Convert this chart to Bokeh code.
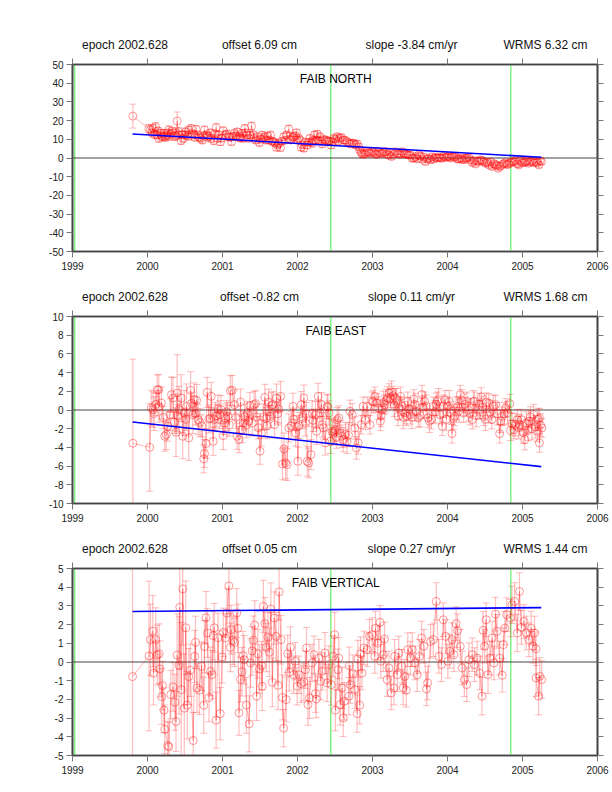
from bokeh.plotting import figure
from bokeh.layouts import column
from bokeh.models import ColumnDataSource, Label, LinearAxis, FixedTicker, Span
from bokeh.embed import file_html
from bokeh.resources import INLINE

year_ticks = [1999, 2000, 2001, 2002, 2003, 2004, 2005, 2006]
eq_epochs = [1999.03, 2002.444, 2004.844]

north_t = [1999.805,2000.018,2000.04,2000.076,2000.107,2000.129,2000.151,2000.173,2000.196,2000.218,
 2000.24,2000.262,2000.284,2000.307,2000.342,2000.364,2000.396,2000.418,2000.449,2000.476,
 2000.507,2000.529,2000.551,2000.582,2000.618,2000.649,2000.671,2000.707,2000.729,2000.76,
 2000.787,2000.818,2000.849,2000.884,2000.916,2000.951,2000.973,2001.009,2001.04,2001.084,
 2001.12,2001.16,2001.196,2001.231,2001.262,2001.298,2001.329,2001.351,2001.387,2001.427,
 2001.462,2001.493,2001.529,2001.56,2001.604,2001.64,2001.684,2001.72,2001.751,2001.773,
 2001.818,2001.853,2001.884,2001.916,2001.951,2001.987,2002.018,2002.049,2002.084,2002.129,
 2002.164,2002.196,2002.227,2002.262,2002.298,2002.329,2002.373,2002.418,2002.449,2002.484,
 2002.529,2002.564,2002.609,2002.662,2002.707,2002.751,2002.796,2002.831,2002.862,2002.907,
 2002.951,2002.996,2003.04,2003.084,2003.129,2003.173,2003.218,2003.253,2003.307,2003.351,
 2003.396,2003.44,2003.484,2003.529,2003.573,2003.618,2003.662,2003.707,2003.751,2003.796,
 2003.84,2003.884,2003.929,2003.973,2004.018,2004.062,2004.107,2004.151,2004.196,2004.24,
 2004.284,2004.329,2004.373,2004.418,2004.462,2004.507,2004.551,2004.596,2004.64,2004.676,
 2004.729,2004.773,2004.818,2004.862,2004.907,2004.951,2004.996,2005.04,2005.084,2005.129,
 2005.173,2005.218,2005.253]
north_y = [22.4,15.7,15,15.8,16.7,12.3,10.5,13.2,11.4,13.2,
 11,12.3,15,12.8,13.5,11.4,19.8,14,9.3,10.5,
 14,12.3,15,15.8,12.3,15.3,12.3,10.5,9.6,15,
 12.3,11.7,10.5,9.3,16.2,12.3,8.7,14.6,12.3,11.4,
 8.7,13.2,14,11.7,13.2,15.8,12.3,10.5,17.1,10.5,
 11.4,8.2,12.3,11.4,11.7,12.3,8.7,5.7,7.8,5.5,
 11.4,12.3,15.5,9.6,11.4,13.5,10.5,5.7,5.2,6.9,
 10.5,7.8,12.3,12.8,11.4,7.5,9.6,9.1,6.9,10.5,
 11.4,10.5,9.6,8.7,7.5,7.8,7.5,4.3,2.1,2.5,
 2.8,3.4,2.1,3.4,2.5,3.4,1.6,0.7,3.4,2.1,
 3.4,2.1,1.6,-0.2,0.7,1.6,-0.7,-2,-0.2,0.7,
 0.4,0.4,-0.2,0.4,0.7,1.1,0.7,-0.7,-0.7,-0.2,
 0.4,-2.5,-3.2,-2,-1.4,-2.8,-3.7,-4.6,-3.7,-5.5,
 -3.7,-2.5,-3.2,-2,-1.4,-3.7,-2.5,-2,-2.8,-1.4,
 -2,-3.7,-2]
north_e = [6.4,2.2,2.2,2.2,2.2,2.1,2.1,2.1,2.1,2.0,
 2.0,2.0,2.2,2.0,2.0,2.0,4.8,2.4,2.0,2.0,
 2.0,2.0,2.0,2.0,2.0,2.0,2.0,2.0,2.0,2.0,
 2.0,2.0,2.0,2.0,2.2,2.0,2.0,2.0,2.0,2.0,
 1.8,1.8,1.8,1.8,1.8,2.0,1.8,1.8,2.0,1.8,
 1.8,1.8,1.8,1.8,1.8,1.8,1.8,1.8,1.8,1.8,
 1.8,1.8,2.0,1.8,1.8,1.8,1.8,1.8,1.8,1.8,
 1.8,1.8,1.8,1.8,1.8,1.8,1.8,1.8,1.8,1.8,
 1.8,1.8,1.8,1.8,1.8,1.8,1.8,1.5,1.5,1.5,
 1.5,1.5,1.5,1.5,1.5,1.5,1.5,1.5,1.5,1.5,
 1.5,1.5,1.5,1.5,1.5,1.5,1.5,1.5,1.5,1.5,
 1.5,1.5,1.5,1.5,1.5,1.5,1.5,1.5,1.5,1.5,
 1.5,1.5,1.5,1.5,1.5,1.5,1.5,1.5,1.5,1.5,
 1.5,1.5,1.5,1.5,1.5,1.5,1.5,1.5,1.5,1.5,
 1.5,1.5,1.5]
north_extra_t = [2000.06,2000.09,2000.14,2000.185,2000.23,2000.27,2000.295,2000.33,2000.38,2000.41,
 2000.46,2000.49,2000.54,2000.60,2000.63,2000.69,2000.745,2000.80,2000.835,2000.90,
 2000.935,2000.99,2001.06,2001.10,2001.14,2001.18,2001.215,2001.245,2001.28,2001.31,
 2001.37,2001.41,2001.445,2001.51,2001.545,2001.58,2001.62,2001.66,2001.70,2001.735,
 2001.79,2001.835,2001.90,2001.935,2001.97,2002.00,2002.035,2002.065,2002.105,2002.145,
 2002.18,2002.21,2002.245,2002.28,2002.315,2002.35,2002.395,2002.435,2002.465,2002.505,
 2002.545,2002.585,2002.635,2002.685,2002.73,2002.775,2002.815,
 2002.85,2002.885,2002.93,2002.975,2003.02,2003.06,2003.105,2003.15,2003.195,2003.235,
 2003.28,2003.33,2003.375,2003.42,2003.46,2003.505,2003.55,2003.595,2003.64,2003.685,
 2003.73,2003.775,2003.82,2003.86,2003.905,2003.95,2003.995,2004.04,2004.085,2004.13,
 2004.175,2004.22,2004.26,2004.305,2004.35,2004.395,2004.44,2004.485,2004.53,2004.575,
 2004.62,2004.66,2004.70,2004.75,2004.795,2004.84,2004.885,2004.93,2004.975,2005.02,
 2005.06,2005.105,2005.15,2005.195,2005.235]
north_extra_y = [13.5,12.5,14.5,12,11.5,13.5,11.5,14.5,12,12.5,
 12.5,12.5,11.5,13,11,11,12,11,13.5,13,
 10.5,10.5,13,11,11.5,12,11,10.5,10.5,13.5,
 12,12.5,9.5,10,10.5,9.5,9.5,9,8,7,
 9,9.5,10,11,12,9.5,9.5,7,8.5,8.5,
 8.5,9.5,9.5,9.5,9,10,9,9,8.5,10,
 9,11,9.5,8,8,7,6,
 3,2,3.5,2.5,3,2,2.5,3,2,3,
 2,2.5,2,2.5,2,1.5,0,-0.5,1,0.5,
 -0.5,-1,-0.5,0,0,1,0.5,0,0.5,-0.5,
 0,-1,0,-1,-1.5,-1.5,-1,-2,-2.5,-2,
 -3,-4,-4.5,-3,-3.5,-2.5,-2,-3,-1.5,-2.5,
 -1.5,-2,-2.5,-2.5,-1.5]
north_extra_err = 1.7

east_t = [1999.805,2000.03,2000.05,2000.075,2000.09,2000.13,2000.15,2000.155,2000.185,2000.23,
 2000.25,2000.27,2000.30,2000.32,2000.34,2000.38,2000.395,2000.42,2000.45,2000.47,
 2000.49,2000.52,2000.55,2000.575,2000.605,2000.625,2000.655,2000.675,2000.70,2000.75,
 2000.76,2000.78,2000.795,2000.82,2000.85,2000.875,2000.905,2000.94,2000.965,2000.98,
 2001.01,2001.04,2001.07,2001.105,2001.13,2001.16,2001.195,2001.22,2001.24,2001.26,
 2001.295,2001.32,2001.35,2001.365,2001.395,2001.42,2001.44,2001.46,2001.50,2001.52,
 2001.545,2001.565,2001.595,2001.615,2001.65,2001.67,2001.695,2001.72,2001.75,2001.775,
 2001.80,2001.82,2001.84,2001.86,2001.885,2001.915,2001.94,2001.975,2002.005,2002.02,
 2002.05,2002.085,2002.105,2002.13,2002.15,2002.18,2002.195,2002.24,2002.255,2002.275,
 2002.30,2002.32,2002.33,2002.37,2002.395,2002.405,2002.42,2002.44,2002.46,2002.475,
 2002.495,2002.505,2002.53,2002.55,2002.57,2002.61,2002.64,2002.66,2002.70,2002.73,
 2002.765,2002.785,2002.81,2002.85,2002.875,2002.905,2002.93,2002.965,2002.995,2003.03,
 2003.06,2003.105,2003.13,2003.16,2003.22,2003.24,2003.275,2003.305,2003.34,2003.375,
 2003.395,2003.455,2003.47,2003.505,2003.55,2003.585,2003.61,2003.66,2003.695,2003.74,
 2003.785,2003.81,2003.865,2003.90,2003.93,2003.965,2004.005,2004.06,2004.095,2004.135,
 2004.17,2004.215,2004.26,2004.33,2004.36,2004.405,2004.45,2004.485,2004.52,2004.55,
 2004.59,2004.64,2004.695,2004.73,2004.775,2004.83,2004.84,2004.885,2004.93,2004.965,
 2004.985,2005.03,2005.07,2005.105,2005.15,2005.195,2005.225,2005.226,2005.26]
east_y = [-3.56,-3.99,0.21,0.04,-0.39,2.17,2.17,0.39,0.75,-2.81,
 -2.63,-1.74,-0.5,1.64,1.28,-2.38,1.81,0.04,1.28,-2.81,
 -0.32,0.39,-2.99,2.1,-0.5,1.1,1.03,-1.03,-1.32,-5.23,
 -4.66,-3.59,1.89,-0.96,1.46,-3.35,-0.68,0.11,-0.5,0.04,
 -2.74,-0.85,-0.68,2.06,2.1,0.57,-2.81,-3.17,0.85,-2.1,
 -0.75,-1.57,-1.21,0.46,-1.39,0.57,0.68,-0.75,-4.41,-2.46,
 -0.75,1.35,-1.67,0.82,0.46,0.57,-1.57,1.28,0.11,1.46,
 -5.77,-4.16,-5.66,-5.84,-1.92,-1.67,0.39,-2.46,-5.48,-1.67,
 0.57,1.28,-1.39,-5.48,-5.66,-4.77,-0.39,-0.5,-2.28,1.46,
 -0.32,0.57,-1.57,-3.52,0.39,0.32,-0.32,-3.35,-2.28,-2.46,
 -2.28,-2.1,-1.03,-0.85,-2.46,-3.17,-2.63,-3.35,-0.14,-0.5,
 -1.92,-4.06,-3.52,-1.57,0.39,-1.1,0.39,-1.57,0.93,1.46,
 0.75,-1.21,0.04,0.57,1.81,1.28,1.53,1.28,-0.68,1.46,
 0.39,-0.68,0.93,-0.5,1.17,-0.14,-0.85,1.64,0.93,-0.85,
 -1.03,0.39,0.93,-0.5,-1.74,1.1,0.39,-2.53,-0.68,0.39,
 1.64,-0.32,0.93,-1.03,0.93,0.04,1.39,-0.68,0.82,0.75,
 -1.03,0.57,-2.53,-0.68,0.21,0.68,-2.17,-2.1,-1.03,-1.57,
 -1.03,-3.17,-2.17,-0.75,-0.5,-2.28,-0.85,-3.52,-1.92]
east_e = [9.0,4.7,1.9,1.9,1.8,1.6,1.6,1.7,1.7,1.6,
 1.6,1.6,1.7,1.9,2.2,2.6,4.1,2.5,2.5,2.4,
 2.4,2.4,2.4,2.0,2.0,1.8,1.7,1.6,1.5,1.5,
 1.5,1.6,1.6,1.5,1.5,1.5,1.5,1.5,1.5,1.5,
 1.5,1.5,1.5,1.6,1.6,1.6,1.4,1.4,1.4,1.4,
 1.4,1.4,1.4,1.4,1.4,1.4,1.4,1.4,1.4,1.4,
 1.4,1.4,1.4,1.4,1.4,1.4,1.4,1.5,1.5,1.6,
 1.7,1.7,1.7,1.7,1.5,1.5,1.4,1.4,1.5,1.4,
 1.4,1.4,1.4,1.6,1.6,1.6,1.4,1.4,1.4,1.4,
 1.3,1.3,1.3,1.3,1.3,1.3,1.3,1.3,1.3,1.3,
 1.3,1.3,1.3,1.3,1.3,1.3,1.3,1.3,1.2,1.2,
 1.2,1.2,1.2,1.0,1.0,1.0,1.0,1.0,1.0,1.0,
 1.0,1.0,1.0,1.0,1.0,1.0,1.0,1.0,1.0,1.0,
 1.0,1.0,1.0,1.0,1.0,1.0,1.0,1.0,1.0,1.0,
 1.0,1.0,1.0,1.0,1.0,1.0,1.0,1.0,1.0,1.0,
 1.0,1.0,1.0,1.0,1.0,1.0,1.0,1.0,1.0,1.0,
 1.0,1.0,1.0,1.0,1.0,1.0,1.1,1.0,1.1,1.1,
 1.1,1.1,1.1,1.1,1.1,1.1,1.0,1.0,1.0]
east_extra_t = [2000.11,2000.21,2000.36,2000.405,2000.51,2000.59,2000.64,2000.725,2000.84,2000.89,
 2000.925,2001.025,2001.055,2001.09,2001.18,2001.28,2001.335,2001.48,2001.58,2001.635,
 2001.735,2001.95,2001.995,2002.07,2002.12,2002.21,2002.345,2002.52,2002.59,2002.68,
 2003.01,2003.08,2003.115,2003.145,2003.18,2003.20,2003.255,2003.29,2003.32,2003.355,
 2003.41,2003.43,2003.485,2003.525,2003.565,2003.635,2003.675,2003.715,2003.76,2003.835,
 2003.85,2003.88,2003.945,2003.985,2004.025,2004.04,2004.08,2004.115,2004.155,2004.19,
 2004.235,2004.28,2004.30,2004.345,2004.385,2004.425,2004.47,2004.505,2004.57,2004.61,
 2004.665,2004.71,2004.755,2004.80,2004.86,2004.905,2004.95,2005.01,2005.05,2005.085,
 2005.125,2005.17,2005.21,2005.24]
east_extra_y = [0.6,-0.8,-1.3,-0.6,-1.0,0.7,-0.4,-1.7,-0.9,-1.0,
 -0.6,-1.4,-0.2,-1.6,-0.8,-1.4,-0.3,-1.9,-0.9,-0.7,
 -0.4,-1.0,-1.8,-0.8,-0.4,-1.1,-1.9,-2.9,-2.8,-2.7,
 0.9,0.2,-0.6,0.8,1.0,1.3,1.9,0.5,1.1,0.2,
 -0.8,-0.3,0.1,-0.8,0.6,-0.6,0.3,0.4,-1.2,-0.2,
 0.6,1.1,0.4,-1.0,0.9,-0.3,-0.9,0.2,-0.1,1.0,
 0.6,0.0,-0.4,0.9,-0.6,0.6,0.3,-1.0,-0.2,0.4,
 -0.4,-1.2,-0.4,-0.3,-1.5,-1.6,-1.9,-2.4,-1.4,-1.2,
 -2.0,-1.8,-1.0,-1.6]
east_extra_err = 1.2

vert_t = [1999.80,2000.02,2000.04,2000.07,2000.08,2000.11,2000.13,2000.155,2000.165,2000.19,
 2000.20,2000.22,2000.23,2000.27,2000.285,2000.31,2000.34,2000.365,2000.38,2000.395,
 2000.42,2000.43,2000.45,2000.47,2000.49,2000.51,2000.53,2000.55,2000.57,2000.61,
 2000.63,2000.64,2000.66,2000.69,2000.72,2000.75,2000.76,2000.78,2000.80,2000.82,
 2000.84,2000.86,2000.875,2000.89,2000.915,2000.94,2000.97,2000.995,2001.01,2001.04,
 2001.06,2001.085,2001.105,2001.115,2001.14,2001.16,2001.19,2001.205,2001.22,2001.24,
 2001.26,2001.275,2001.29,2001.32,2001.355,2001.375,2001.395,2001.41,2001.43,2001.455,
 2001.47,2001.495,2001.52,2001.53,2001.545,2001.565,2001.585,2001.605,2001.625,2001.645,
 2001.665,2001.69,2001.715,2001.74,2001.755,2001.78,2001.80,2001.815,2001.85,2001.87,
 2001.89,2001.905,2001.95,2001.97,2001.995,2002.02,2002.05,2002.085,2002.105,2002.12,
 2002.14,2002.16,2002.195,2002.22,2002.24,2002.25,2002.285,2002.31,2002.33,2002.365,
 2002.395,2002.42,2002.45,2002.475,2002.495,2002.505,2002.54,2002.55,2002.57,2002.595,
 2002.61,2002.625,2002.685,2002.69,2002.705,2002.74,2002.765,2002.795,2002.805,2002.83,
 2002.84,2002.86,2002.885,2002.93,2002.96,2002.995,2003.03,2003.04,2003.07,2003.10,
 2003.11,2003.145,2003.16,2003.195,2003.22,2003.25,2003.285,2003.295,2003.33,2003.35,
 2003.39,2003.41,2003.43,2003.45,2003.47,2003.505,2003.53,2003.565,2003.595,2003.625,
 2003.655,2003.685,2003.72,2003.735,2003.775,2003.81,2003.85,2003.885,2003.92,2003.945,
 2003.975,2004.005,2004.03,2004.06,2004.085,2004.115,2004.135,2004.17,2004.195,2004.225,
 2004.255,2004.285,2004.33,2004.36,2004.395,2004.43,2004.46,2004.475,2004.495,2004.515,
 2004.54,2004.565,2004.595,2004.62,2004.64,2004.66,2004.695,2004.73,2004.745,2004.765,
 2004.79,2004.84,2004.86,2004.895,2004.93,2004.96,2004.985,2005.02,2005.05,2005.085,
 2005.115,2005.14,2005.16,2005.18,2005.181,2005.215,2005.23,2005.255]
vert_y = [-0.78,0.32,1.19,1.65,-0.6,1.2,0.37,0.44,-0.37,-1.85,
 -1.26,-2.58,-3.6,-4.47,-4.54,-1.74,-1.33,-2.15,-3.18,0.37,
 -0.18,2.92,-1.48,3.91,-2.47,1.83,-2.31,-0.78,-0.44,-4.2,
 0.3,1.05,-1.39,-1.51,-0.23,-2.31,0.82,2.37,1.55,-1.9,
 -0.5,-0.68,1.41,1.83,-3.11,1.3,-2.76,0.27,1.58,1.28,
 2.62,4.07,0.78,1.73,1.16,1.05,2.62,1.8,-2.72,-0.94,
 -0.52,0.34,0.12,-2.31,-3.31,-0.05,0.59,1.16,1.98,-1.83,
 0.44,-0.37,-0.2,-1.3,2.97,2.05,0.78,1.33,0.52,2.83,
 -1.09,2.35,1.37,-1.25,3.75,1.19,-1.9,-3.54,-2.01,0.44,
 -0.55,0.78,-0.68,0.04,-1.3,-0.68,-1.16,-1.07,-0.41,0.75,
 -2.28,-1.92,-0.05,0.39,-1.69,-1.98,0.21,-1.03,-0.5,0.48,
 -1.12,-0.14,-1.21,0.3,1.46,-2.58,-0.41,0.21,-2.28,-1.39,
 -2.99,-2.1,-1.83,-0.2,-1.21,-0.62,-1.48,-2.76,0.16,-2.31,
 0.44,-0.59,0.75,0.66,1.37,1.46,0.3,1.81,1.01,2.12,
 0.04,0.39,1.23,-0.94,-0.32,-1.65,-1.39,0.3,-0.68,0.48,
 -0.23,-1.39,-0.77,-1.51,0.66,0.21,0.66,-0.05,-0.68,0.3,
 1.28,0.84,-1.44,-1.12,1.1,1.19,3.24,0.3,-0.14,2.26,
 1.37,0.04,0.57,1.19,0.39,2.05,1.67,0.84,-0.32,-0.94,
 -1.21,0.12,0.39,-0.14,0.21,-0.59,-1.83,1.69,0.84,2.26,
 -0.68,0.21,1.28,-0.05,2.56,1.64,0.21,-0.71,0.93,1.81,
 2.53,2.35,3.06,3.24,1.55,3.77,1.85,2.17,1.55,1.19,
 1.81,0.84,1.55,0.71,-0.85,-1.83,-0.77,-0.94]
vert_e = [6.0,4.0,1.9,1.9,1.7,1.7,1.6,1.6,1.5,1.5,
 1.3,1.2,1.3,1.3,1.3,1.3,1.3,1.5,1.6,2.2,
 2.6,3.3,3.6,3.0,2.9,2.5,1.8,1.5,1.4,1.5,
 1.4,1.4,1.3,1.3,1.3,1.5,1.4,1.4,1.3,1.3,
 1.3,1.3,1.3,1.3,1.5,1.3,1.4,1.4,1.3,1.3,
 1.3,1.5,1.3,1.3,1.3,1.3,1.3,1.3,1.2,1.2,
 1.3,1.3,1.3,1.5,1.5,1.3,1.3,1.3,1.3,1.3,
 1.3,1.3,1.3,1.3,1.4,1.4,1.3,1.3,1.3,1.4,
 1.3,1.4,1.3,1.3,1.5,1.3,1.2,1.0,1.2,1.0,
 1.0,1.1,1.0,1.0,1.0,1.0,1.0,1.0,1.0,1.1,
 1.1,1.1,1.0,1.0,1.0,1.0,1.0,1.0,1.0,1.1,
 1.0,1.0,1.1,1.1,1.2,1.1,1.1,1.1,1.1,1.1,
 1.0,1.0,1.0,1.0,1.0,1.0,1.0,1.0,1.0,1.0,
 0.9,0.9,0.9,0.9,0.9,0.9,0.9,0.9,0.9,0.9,
 0.9,0.9,0.9,0.9,0.9,0.9,0.9,0.9,0.9,0.9,
 0.9,0.9,0.9,0.9,0.9,0.9,0.9,0.9,0.9,0.9,
 0.9,0.9,0.9,0.9,0.9,0.9,1.0,0.9,0.9,0.9,
 0.9,0.9,0.9,0.9,0.9,0.9,0.9,0.9,0.9,0.9,
 0.9,0.9,0.9,0.9,0.9,0.9,1.0,1.0,0.9,0.9,
 1.0,0.9,0.9,0.9,0.9,0.9,0.9,0.9,0.9,0.9,
 0.9,1.0,1.0,1.0,1.0,1.0,0.9,0.9,0.9,0.9,
 0.9,0.9,0.9,0.9,1.0,1.0,1.0,1.0]

titles = ["FAIB NORTH", "FAIB EAST", "FAIB VERTICAL"]
offsets = ["offset 6.09 cm", "offset -0.82 cm", "offset 0.05 cm"]
slopes = ["slope -3.84 cm/yr", "slope 0.11 cm/yr", "slope 0.27 cm/yr"]
wrms = ["WRMS 6.32 cm", "WRMS 1.68 cm", "WRMS 1.44 cm"]
epoch_text = "epoch 2002.628"
header_centers = [1999.70, 2001.493, 2003.52, 2005.307]
fit_t = [1999.80, 2005.25]
north_fit = [12.8, 0.4]
east_fit = [-1.28, -6.06]
vert_fit = [2.70, 2.91]
north_ticks = [-50, -40, -30, -20, -10, 0, 10, 20, 30, 40, 50]
east_ticks = [-10, -8, -6, -4, -2, 0, 2, 4, 6, 8, 10]
vert_ticks = [-5, -4, -3, -2, -1, 0, 1, 2, 3, 4, 5]

FONT = "Liberation Sans"
DARK = "#444444"


def merged(t, y, e, xt=(), xy=(), xe=0.0):
    rows = sorted(list(zip(t, y, e)) + [(a, b, xe) for a, b in zip(xt, xy)])
    return [r[0] for r in rows], [r[1] for r in rows], [r[2] for r in rows]


def style_axis(ax):
    ax.axis_line_color = DARK
    ax.axis_line_width = 1.6
    ax.major_tick_line_color = "#777777"
    ax.major_tick_line_width = 1
    ax.major_tick_in = 0
    ax.major_tick_out = 6
    ax.minor_tick_line_color = "#777777"
    ax.minor_tick_line_width = 1
    ax.minor_tick_in = 0
    ax.minor_tick_out = 0
    ax.major_label_text_font = FONT
    ax.major_label_text_color = "#222222"
    ax.major_label_text_font_size = "10px"


def panel(i, t, y, e, fit, ticks, top_border):
    ymax = ticks[-1]
    ymin = ticks[0]
    px = (ymax - ymin) / 187.4
    p = figure(frame_width=525, frame_height=187, x_range=(1999, 2006), y_range=(ymin, ymax),
               output_backend="svg", toolbar_location=None, x_axis_location=None, y_axis_location=None,
               min_border_left=72, min_border_right=13, min_border_top=top_border, min_border_bottom=29,
               background_fill_color="white", border_fill_color="white",
               outline_line_color=DARK, outline_line_width=1.6)
    p.grid.visible = False

    left = LinearAxis(ticker=FixedTicker(ticks=ticks))
    style_axis(left)
    left.major_label_overrides = {v: str(v) for v in ticks}
    left.major_label_standoff = 3
    p.add_layout(left, "left")

    below = LinearAxis(ticker=FixedTicker(ticks=year_ticks))
    style_axis(below)
    below.major_label_overrides = {v: str(v) for v in year_ticks}
    below.major_label_standoff = 4
    p.add_layout(below, "below")

    right = LinearAxis(ticker=FixedTicker(ticks=[], minor_ticks=ticks))
    style_axis(right)
    right.minor_tick_out = 6
    p.add_layout(right, "right")

    heads = [epoch_text, offsets[i], slopes[i], wrms[i]]
    above = LinearAxis(ticker=FixedTicker(ticks=header_centers, minor_ticks=year_ticks))
    style_axis(above)
    above.major_tick_out = 0
    above.major_tick_line_color = None
    above.minor_tick_out = 6
    above.major_label_overrides = dict(zip(header_centers, heads))
    above.major_label_text_font_size = "12px"
    above.major_label_text_color = "#111111"
    above.major_label_standoff = 7
    p.add_layout(above, "above")

    src = ColumnDataSource(dict(t=t, y=y, lo=[a - b for a, b in zip(y, e)], hi=[a + b for a, b in zip(y, e)]))
    for x_eq in eq_epochs:
        p.add_layout(Span(location=x_eq, dimension="height", line_color="#66ee66", line_width=1.2, level="underlay"))
    p.add_layout(Span(location=0, dimension="width", line_color=DARK, line_width=1, level="underlay"))
    p.segment(x0="t", y0="lo", x1="t", y1="hi", source=src, line_color="#ff0000", line_alpha=0.26, line_width=1.2)
    p.scatter(x="t", y="lo", source=src, marker="dash", size=7, line_color="#ff0000", line_alpha=0.26, line_width=1)
    p.scatter(x="t", y="hi", source=src, marker="dash", size=7, line_color="#ff0000", line_alpha=0.26, line_width=1)
    p.line(x="t", y="y", source=src, line_color="#ff0000", line_alpha=0.42, line_width=0.7)
    p.scatter(x="t", y="y", source=src, marker="circle", size=8, fill_color=None,
              line_color="#ff0000", line_alpha=0.5, line_width=0.8)
    p.line(x=fit_t, y=fit, line_color="#0000ff", line_width=1.6)

    p.add_layout(Label(x=2002.51, y=ymax - 14.5 * px, text=titles[i], text_font=FONT, text_font_size="12px",
                       text_color="#000000", text_align="center", text_baseline="middle"))
    return p


n = merged(north_t, north_y, north_e, north_extra_t, north_extra_y, north_extra_err)
e = merged(east_t, east_y, east_e, east_extra_t, east_extra_y, east_extra_err)
v = merged(vert_t, vert_y, vert_e)

p1 = panel(0, n[0], n[1], n[2], north_fit, north_ticks, 64)
p2 = panel(1, e[0], e[1], e[2], east_fit, east_ticks, 36)
p3 = panel(2, v[0], v[1], v[2], vert_fit, vert_ticks, 36)

page = column(p1, p2, p3, spacing=0)
open("out.html", "w").write(file_html(page, INLINE))
